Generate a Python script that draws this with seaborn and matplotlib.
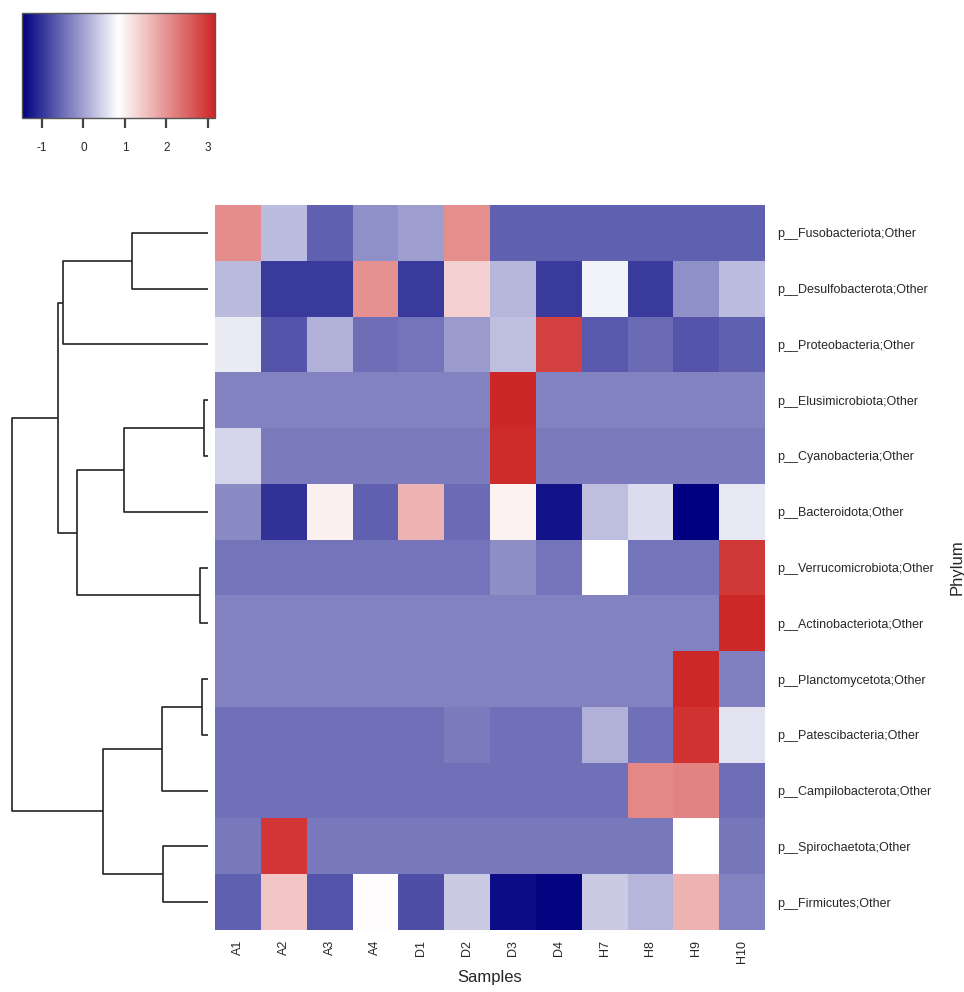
import numpy as np
import pandas as pd
import matplotlib
matplotlib.use("Agg")
import matplotlib.pyplot as plt
from matplotlib.colors import LinearSegmentedColormap
import seaborn as sns

sns.set_style("white")
plt.rcParams["font.family"] = ["Liberation Sans", "DejaVu Sans"]
plt.rcParams["axes.unicode_minus"] = False

samples = ["A1", "A2", "A3", "A4", "D1", "D2", "D3", "D4", "H7", "H8", "H9", "H10"]
phyla = [
    "p__Fusobacteriota;Other",
    "p__Desulfobacterota;Other",
    "p__Proteobacteria;Other",
    "p__Elusimicrobiota;Other",
    "p__Cyanobacteria;Other",
    "p__Bacteroidota;Other",
    "p__Verrucomicrobiota;Other",
    "p__Actinobacteriota;Other",
    "p__Planctomycetota;Other",
    "p__Patescibacteria;Other",
    "p__Campilobacterota;Other",
    "p__Spirochaetota;Other",
    "p__Firmicutes;Other",
]

# scaled abundance per phylum (rows) across samples (columns)
fusobacteriota    = [2.08, 0.23, -0.60, -0.17, -0.04, 2.05, -0.60, -0.60, -0.60, -0.60, -0.60, -0.60]
desulfobacterota  = [0.21, -0.95, -0.95, 2.01, -0.95, 1.35, 0.18, -0.95, 0.72, -0.95, -0.17, 0.23]
proteobacteria    = [0.66, -0.70, 0.12, -0.48, -0.42, -0.08, 0.25, 2.88, -0.68, -0.50, -0.71, -0.60]
elusimicrobiota   = [-0.29, -0.29, -0.29, -0.29, -0.29, -0.29, 3.17, -0.29, -0.29, -0.29, -0.29, -0.29]
cyanobacteria     = [0.46, -0.37, -0.37, -0.37, -0.37, -0.37, 3.10, -0.37, -0.37, -0.37, -0.37, -0.37]
bacteroidota      = [-0.22, -1.01, 1.00, -0.60, 1.67, -0.51, 0.98, -1.30, 0.25, 0.53, -1.48, 0.63]
verrucomicrobiota = [-0.42, -0.42, -0.42, -0.42, -0.42, -0.42, -0.18, -0.42, 0.86, -0.42, -0.42, 2.96]
actinobacteriota  = [-0.29, -0.29, -0.29, -0.29, -0.29, -0.29, -0.29, -0.29, -0.29, -0.29, -0.29, 3.15]
planctomycetota   = [-0.29, -0.29, -0.29, -0.29, -0.29, -0.29, -0.29, -0.29, -0.29, -0.29, 3.15, -0.31]
patescibacteria   = [-0.46, -0.46, -0.46, -0.46, -0.46, -0.37, -0.46, -0.46, 0.12, -0.46, 3.04, 0.59]
campilobacterota  = [-0.46, -0.46, -0.46, -0.46, -0.46, -0.46, -0.46, -0.46, -0.46, 2.13, 2.18, -0.48]
spirochaetota     = [-0.39, 2.99, -0.39, -0.39, -0.39, -0.39, -0.39, -0.39, -0.39, -0.39, 0.86, -0.40]
firmicutes        = [-0.59, 1.46, -0.70, 0.87, -0.77, 0.36, -1.37, -1.43, 0.36, 0.18, 1.67, -0.29]

# row clustering: (left, right, height); ids >= 13 refer to earlier merges
row_merges = [
    (3, 4, 4), (8, 9, 6), (6, 7, 8), (11, 12, 45), (14, 10, 46), (0, 1, 76),
    (13, 5, 84), (17, 16, 105), (19, 15, 131), (18, 2, 145), (22, 21, 150),
    (23, 20, 196),
]

cbar_ticks = [-1, 0, 1, 2, 3]
vmin, vmax = -1.48, 3.17

data = pd.DataFrame(
    [fusobacteriota, desulfobacterota, proteobacteria, elusimicrobiota,
     cyanobacteria, bacteroidota, verrucomicrobiota, actinobacteriota,
     planctomycetota, patescibacteria, campilobacterota, spirochaetota,
     firmicutes],
    index=phyla, columns=samples,
)

cmap = LinearSegmentedColormap.from_list("navy_white_red", ["#000080", "#FFFFFF", "#CD2626"])

W, H = 964, 992
fig = plt.figure(figsize=(W / 100, H / 100), dpi=100)


def box(x0, y0, x1, y1):
    return [x0 / W, 1 - y1 / H, (x1 - x0) / W, (y1 - y0) / H]


ax_hm = fig.add_axes(box(215, 205, 765, 930))
ax_dg = fig.add_axes(box(12, 205, 208, 930))
cax = fig.add_axes(box(22, 13, 215, 118))

sns.heatmap(
    data, ax=ax_hm, cmap=cmap, vmin=vmin, vmax=vmax, cbar_ax=cax,
    cbar_kws={"orientation": "horizontal", "ticks": cbar_ticks},
    xticklabels=True, yticklabels=True,
)

ax_hm.yaxis.tick_right()
ax_hm.set_yticklabels(phyla, rotation=0, fontsize=9)
ax_hm.set_xticklabels(samples, rotation=90, fontsize=9)
ax_hm.tick_params(axis="both", length=0)
ax_hm.tick_params(axis="y", pad=9)
ax_hm.tick_params(axis="x", pad=7)
ax_hm.yaxis.set_label_position("right")
ax_hm.set_ylabel("Phylum", fontsize=12, labelpad=11)
ax_hm.set_xlabel("Samples", fontsize=12, labelpad=5)

# colour key
cb = ax_hm.collections[0].colorbar
cb.outline.set_edgecolor("#555555")
cb.outline.set_linewidth(1.0)
cax.tick_params(axis="x", length=7, width=1.6, color="#444444", labelsize=8.5, pad=10)

# row dendrogram
n = len(phyla)
pos = {i: (i + 0.5, 0.0) for i in range(n)}
segs = []
for k, (a, b, h) in enumerate(row_merges):
    ya, ha = pos[a]
    yb, hb = pos[b]
    segs.append(([ha, h, h, hb], [ya, ya, yb, yb]))
    pos[n + k] = ((ya + yb) / 2, h)
for xs, ys in segs:
    ax_dg.plot(xs, ys, color="#222222", lw=1.2, solid_capstyle="butt", clip_on=False)
root_h = row_merges[-1][2]
ax_dg.set_xlim(root_h, 0)
ax_dg.set_ylim(n, 0)
ax_dg.axis("off")

fig.savefig("out.png", dpi=100)
